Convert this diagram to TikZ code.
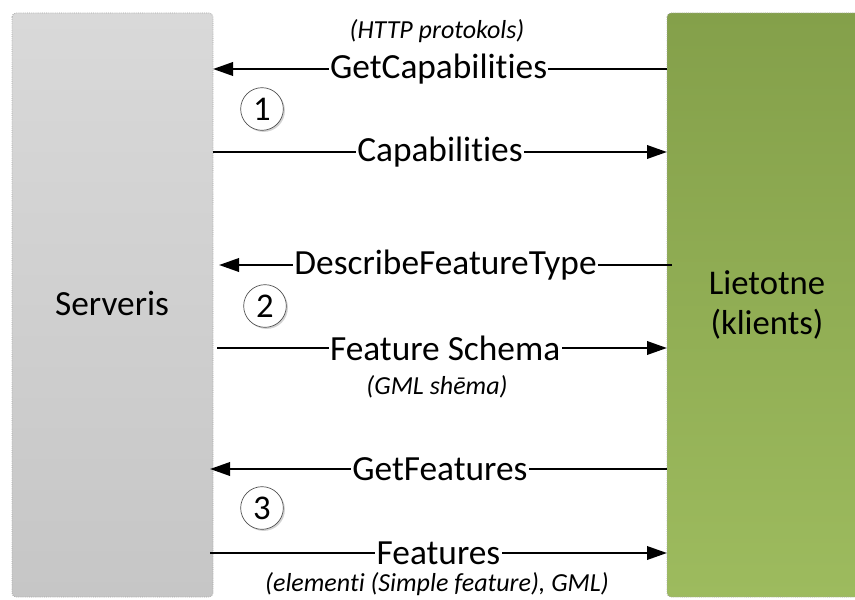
\documentclass[tikz,border=0pt]{standalone}
\usepackage{fontspec}
\setmainfont{Carlito}[Ligatures=NoCommon]
\usetikzlibrary{arrows.meta,shadows}
\definecolor{srvtop}{HTML}{D9D9D9}
\definecolor{srvbot}{HTML}{C6C6C6}
\definecolor{clitop}{HTML}{84A04A}
\definecolor{clibot}{HTML}{9DBB5E}
\begin{document}
\begin{tikzpicture}[x=0.75pt,y=-0.75pt,
  box/.style={draw=gray!70,densely dotted,line width=0.6pt,rounded corners=3pt},
  msg/.style={line width=1.9pt,-{Triangle[length=15pt,width=10pt]}},
  lbl/.style={fill=white,inner sep=1pt,font=\fontsize{26.5}{30}\selectfont},
  note/.style={font=\fontsize{19.5}{23}\selectfont\itshape,inner sep=0pt},
  stepnum/.style={circle,draw=black!70,line width=0.5pt,fill=white,minimum size=32pt,inner sep=0pt,
    font=\fontsize{26}{28}\selectfont,drop shadow={shadow xshift=1.2pt,shadow yshift=-1.2pt,opacity=0.35}}]
\useasboundingbox (0,0) rectangle (855,599);
% boxes
\path[box,top color=srvtop,bottom color=srvbot] (12,13) rectangle (213,597);
\path[box,top color=clitop,bottom color=clibot] (667,13) rectangle (870,597);
\node[font=\fontsize{26.5}{30}\selectfont] (srv) at (112,303) {Serveris};
\node[font=\fontsize{26}{30}\selectfont,align=center] (cli) at (767,305) {Lietotne\\(klients)};
% coordinates at box edges
\coordinate (s1) at (213,69);   \coordinate (c1) at (667,69);
\coordinate (s2) at (213,152);  \coordinate (c2) at (667,152);
\coordinate (s3) at (219,265);  \coordinate (c3) at (672,265);
\coordinate (s4) at (217,348);  \coordinate (c4) at (667,348);
\coordinate (s5) at (210,469);  \coordinate (c5) at (667,469);
\coordinate (s6) at (210,553);  \coordinate (c6) at (667,553);
% messages
\draw[msg] (c1) -- (s1) node[lbl,pos=0.503] (m1) {GetCapabilities};
\draw[msg] (s2) -- (c2) node[lbl,pos=0.5] (m2) {Capabilities};
\draw[msg] (c3) -- (s3) node[lbl,pos=0.5] (m3) {DescribeFeatureType};
\draw[msg] (s4) -- (c4) node[lbl,pos=0.507] (m4) {Feature Schema};
\draw[msg] (c5) -- (s5) node[lbl,pos=0.497] (m5) {GetFeatures};
\draw[msg] (s6) -- (c6) node[lbl,pos=0.5] (m6) {Features};
% notes
\node[note] (n1) at (437,31) {(HTTP protokols)};
\node[note] (n2) at (437,387) {(GML shēma)};
\node[note] (n3) at (437,584) {(elementi (Simple feature), GML)};
% step numbers
\node[stepnum] (k1) at (262,109) {1};
\node[stepnum] (k2) at (265,306) {2};
\node[stepnum] (k3) at (262,508) {3};
\end{tikzpicture}
\end{document}
